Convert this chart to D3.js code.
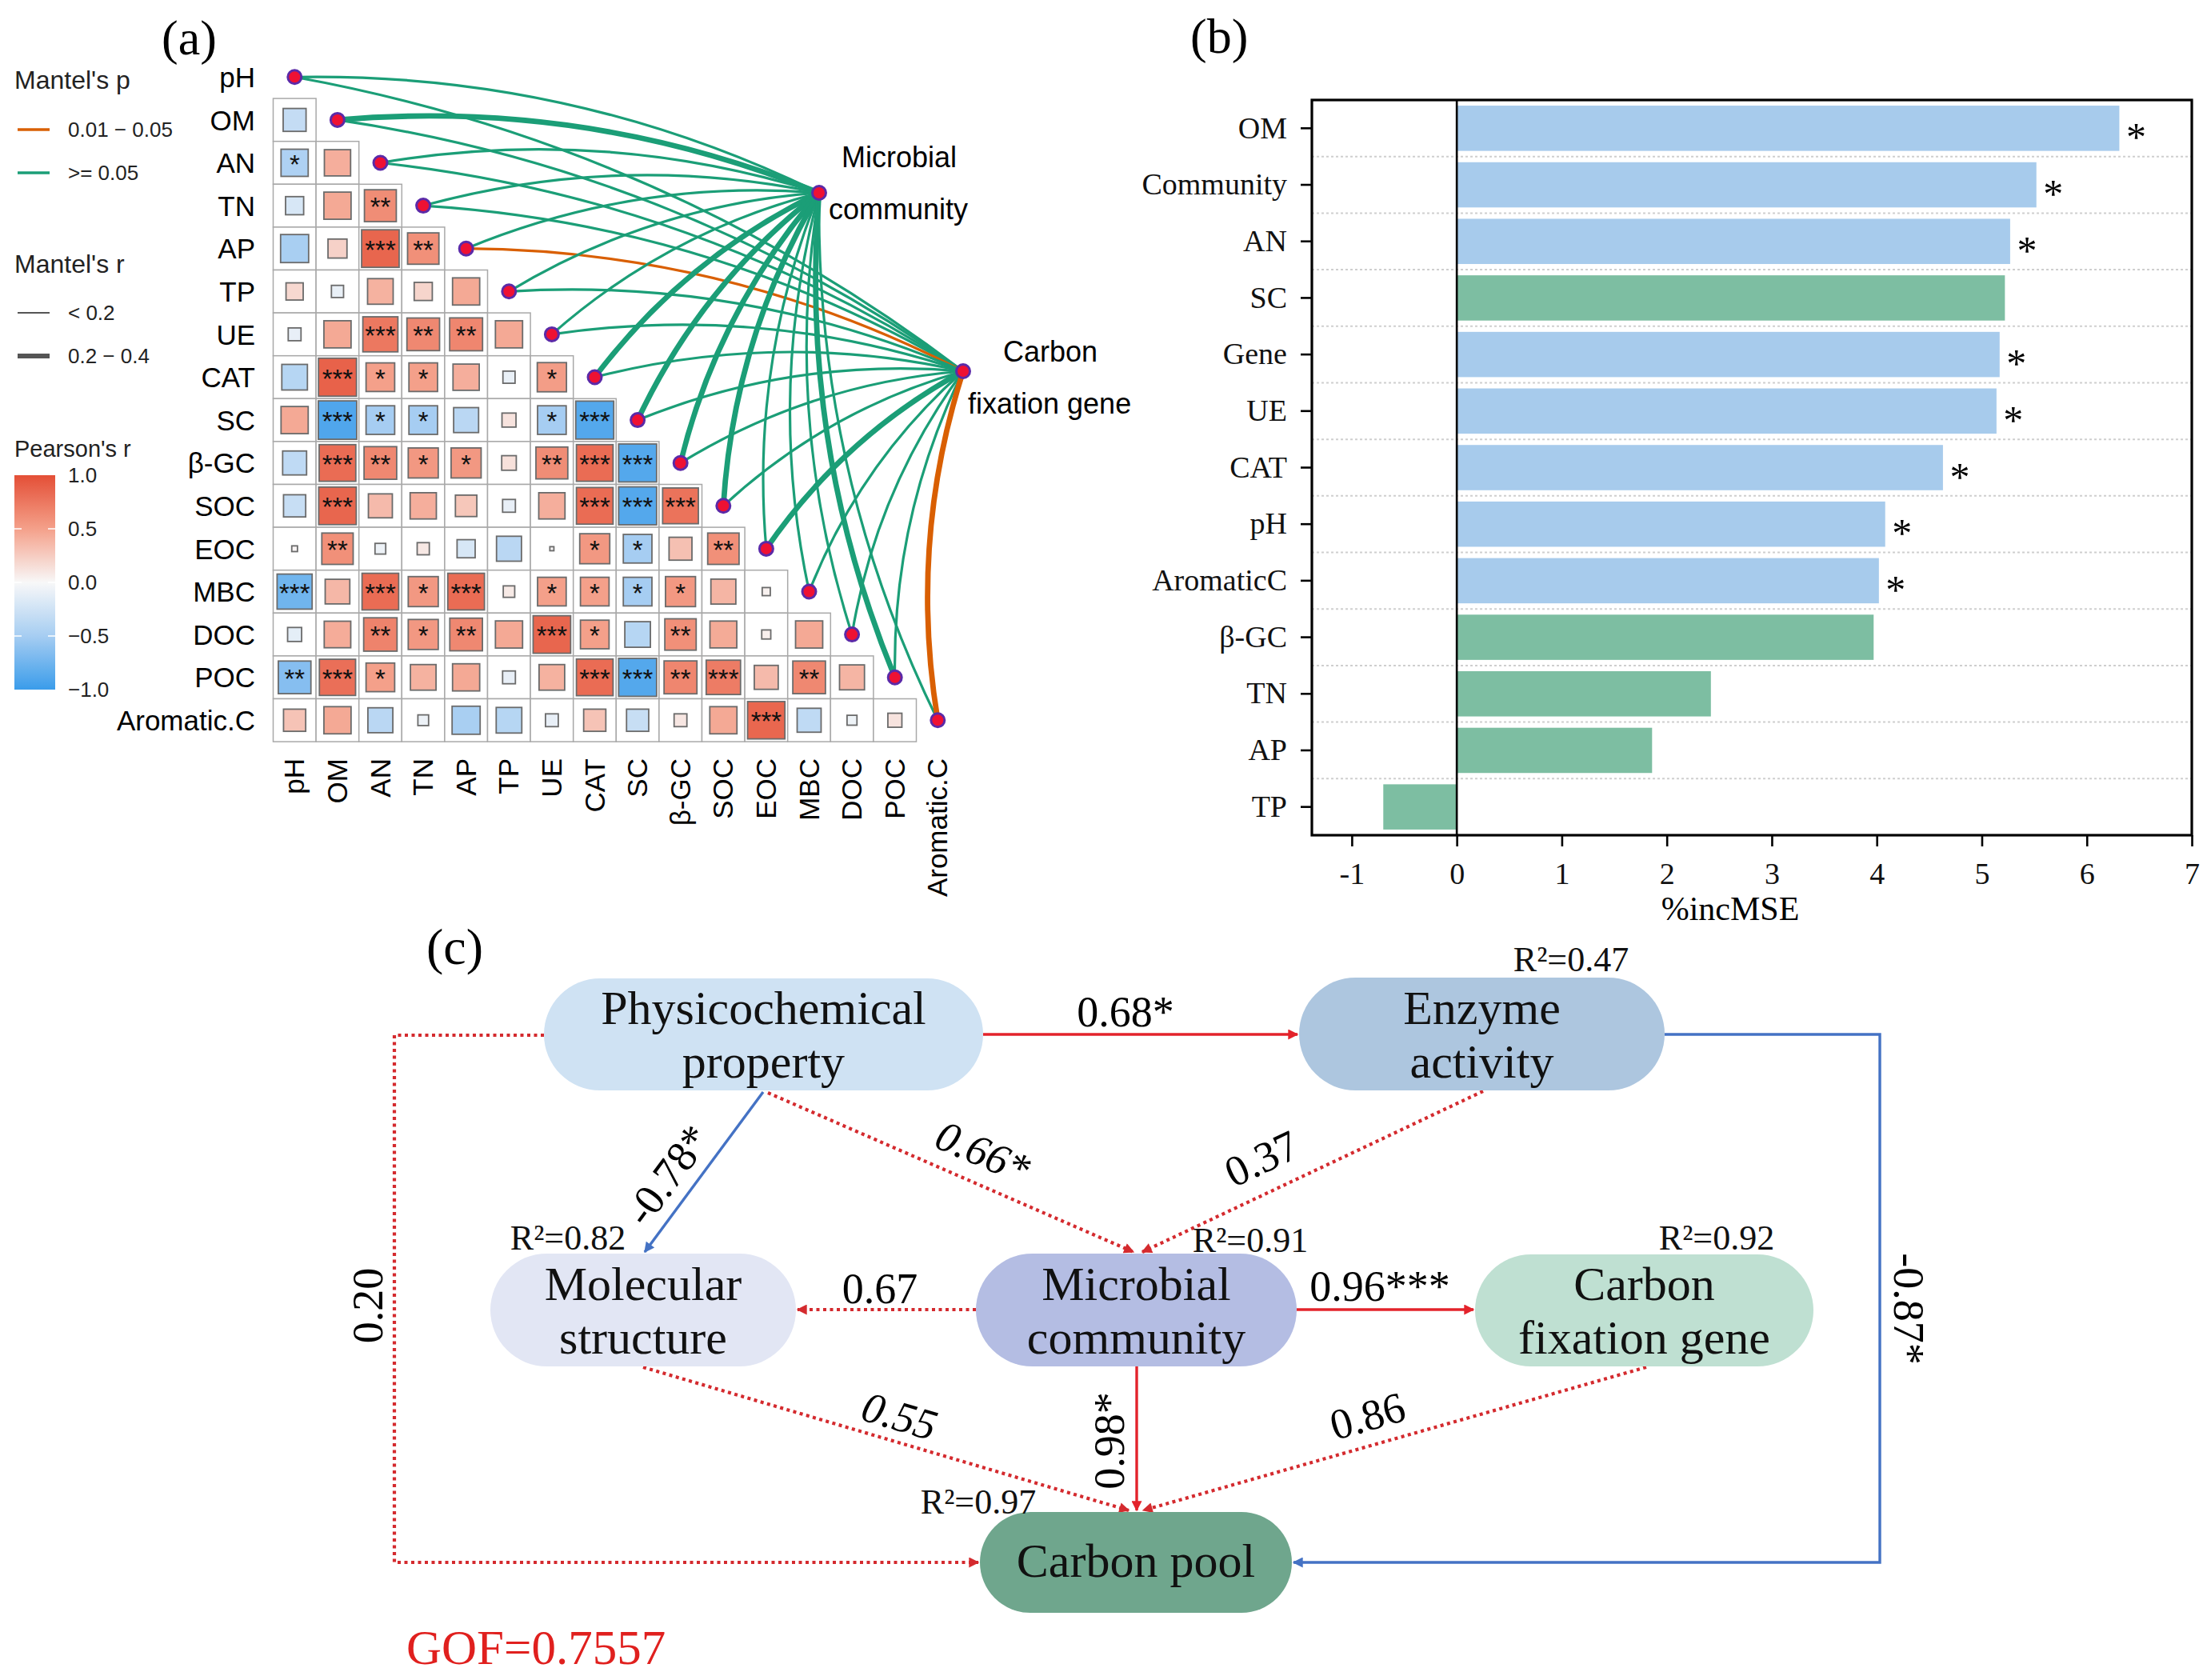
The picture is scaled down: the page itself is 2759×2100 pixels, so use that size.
<!DOCTYPE html>
<html>
<head>
<meta charset="utf-8">
<script src="https://cdn.jsdelivr.net/npm/d3@7"></script>
<style>body{margin:0;background:#fff}</style>
</head>
<body>
<svg id="fig" width="2759" height="2100"></svg>
<script>
// ---------- data: panel (a) ----------
var vars = ["pH","OM","AN","TN","AP","TP","UE","CAT","SC","β-GC","SOC","EOC","MBC","DOC","POC","Aromatic.C"];
// lower triangle of Pearson's r, row i holds columns 0..i-1
var pearsonR = [
  [],
  [-0.32],
  [-0.45, 0.42],
  [-0.2, 0.45, 0.62],
  [-0.48, 0.22, 0.86, 0.6],
  [0.18, -0.09, 0.4, 0.2, 0.45],
  [-0.1, 0.45, 0.75, 0.65, 0.66, 0.45],
  [-0.4, 0.88, 0.5, 0.5, 0.42, -0.09, 0.52],
  [0.45, -0.9, -0.5, -0.5, -0.38, 0.12, -0.5, -0.88],
  [-0.35, 0.82, 0.65, 0.55, 0.55, 0.13, 0.62, 0.82, -0.88],
  [-0.3, 0.86, 0.35, 0.42, 0.28, -0.1, 0.42, 0.82, -0.88, 0.78],
  [0.02, 0.6, -0.07, 0.09, -0.2, -0.38, 0.01, 0.55, -0.5, 0.32, 0.6],
  [-0.75, 0.37, 0.82, 0.55, 0.82, 0.08, 0.5, 0.5, -0.5, 0.55, 0.38, 0.04],
  [-0.12, 0.43, 0.68, 0.55, 0.65, 0.45, 0.86, 0.5, -0.4, 0.6, 0.44, 0.05, 0.45],
  [-0.65, 0.8, 0.5, 0.4, 0.45, -0.1, 0.4, 0.82, -0.88, 0.66, 0.72, 0.35, 0.65, 0.38],
  [0.3, 0.45, -0.38, -0.07, -0.48, -0.4, -0.1, 0.3, -0.3, 0.1, 0.45, 0.85, -0.35, -0.06, 0.12]
];
var pearsonSig = [
  [],
  [""],
  ["*",""],
  ["","","**"],
  ["","","***","**"],
  ["","","","",""],
  ["","","***","**","**",""],
  ["","***","*","*","","","*"],
  ["","***","*","*","","","*","***"],
  ["","***","**","*","*","","**","***","***"],
  ["","***","","","","","","***","***","***"],
  ["","**","","","","","","*","*","","**"],
  ["***","","***","*","***","","*","*","*","*","",""],
  ["","","**","*","**","","***","*","","**","","",""],
  ["**","***","*","","","","","***","***","**","***","","**",""],
  ["","","","","","","","","","","","***","","",""]
];
// Mantel tests against the two response matrices (same order as vars)
var mantelTargets = ["Microbial community", "Carbon fixation gene"];
var mantelR_MC  = [0.12,0.28,0.15,0.14,0.12,0.10,0.15,0.25,0.24,0.22,0.23,0.12,0.10,0.10,0.26,0.12];
var mantelP_MC  = [0.20,0.10,0.30,0.30,0.20,0.40,0.20,0.08,0.09,0.10,0.09,0.30,0.40,0.50,0.07,0.30];
var mantelR_CFG = [0.10,0.12,0.10,0.10,0.15,0.10,0.10,0.10,0.12,0.10,0.10,0.26,0.10,0.10,0.10,0.32];
var mantelP_CFG = [0.30,0.20,0.40,0.40,0.03,0.50,0.30,0.30,0.20,0.40,0.30,0.07,0.40,0.50,0.30,0.02];
var colorbarTicks = [1.0, 0.5, 0.0, -0.5, -1.0];

// ---------- data: panel (b) ----------
var rfNames  = ["OM","Community","AN","SC","Gene","UE","CAT","pH","AromaticC","β-GC","TN","AP","TP"];
var rfValues = [6.31, 5.52, 5.27, 5.22, 5.17, 5.14, 4.63, 4.08, 4.02, 3.97, 2.42, 1.86, -0.70];
var rfSig    = [true, true, true, false, true, true, true, true, true, false, false, false, false];
var rfTicks  = [-1, 0, 1, 2, 3, 4, 5, 6, 7];

// ---------- data: panel (c) ----------
var semNodes = ["phys","enz","mol","mc","cfg","pool"];
var semNames = {
  phys: ["Physicochemical","property"], enz: ["Enzyme","activity"],
  mol: ["Molecular","structure"], mc: ["Microbial","community"],
  cfg: ["Carbon","fixation gene"], pool: ["Carbon pool"]
};
var semR2 = {enz: 0.47, mol: 0.82, mc: 0.91, cfg: 0.92, pool: 0.97};
var semPaths = [
  {from:"phys", to:"enz",  coef:0.68,  sig:"*"},
  {from:"enz",  to:"pool", coef:-0.87, sig:"*"},
  {from:"phys", to:"mol",  coef:-0.78, sig:"*"},
  {from:"phys", to:"mc",   coef:0.66,  sig:"*"},
  {from:"enz",  to:"mc",   coef:0.37,  sig:""},
  {from:"mc",   to:"mol",  coef:0.67,  sig:""},
  {from:"mc",   to:"cfg",  coef:0.96,  sig:"***"},
  {from:"mc",   to:"pool", coef:0.98,  sig:"*"},
  {from:"mol",  to:"pool", coef:0.55,  sig:""},
  {from:"cfg",  to:"pool", coef:0.86,  sig:""},
  {from:"phys", to:"pool", coef:0.20,  sig:""}
];
var gof = 0.7557;

var sans = "'Liberation Sans', Arial, sans-serif";
var serif = "'Liberation Serif', 'Times New Roman', serif";
var svg = d3.select("#fig");
var defs = svg.append("defs");

// ================= panel (a) =================
var cell = 53.6;
var xa = d3.scaleBand().domain(vars).range([341.5, 341.5 + cell * vars.length]);
var ya = d3.scaleBand().domain(vars).range([69.5, 69.5 + cell * vars.length]);
var rColor = d3.scaleLinear().domain([-1, -0.5, 0, 0.5, 1])
  .range(["#3A9CEA", "#A6CDF2", "#F8F8F8", "#F4A08A", "#E44F36"]);

svg.append("text").attr("x", 202).attr("y", 68).attr("font-family", serif)
  .attr("font-size", 62).text("(a)");

var cells = [];
pearsonR.forEach(function (row, i) {
  row.forEach(function (r, j) {
    cells.push({row: vars[i], col: vars[j], r: r, sig: pearsonSig[i][j]});
  });
});

var ga = svg.append("g");
ga.selectAll("rect.bg").data(cells).enter().append("rect")
  .attr("x", function (d) { return xa(d.col); })
  .attr("y", function (d) { return ya(d.row); })
  .attr("width", cell).attr("height", cell)
  .attr("fill", "#fff").attr("stroke", "#a9a9a9").attr("stroke-width", 1.5);

ga.selectAll("rect.sq").data(cells).enter().append("rect")
  .each(function (d) {
    var s = Math.min(1, Math.sqrt(Math.abs(d.r))) * (cell - 3);
    d3.select(this)
      .attr("x", xa(d.col) + (cell - s) / 2)
      .attr("y", ya(d.row) + (cell - s) / 2)
      .attr("width", s).attr("height", s);
  })
  .attr("fill", function (d) { return rColor(d.r); })
  .attr("stroke", "#6b6b6b").attr("stroke-width", 1.8);

ga.selectAll("text.sig").data(cells.filter(function (d) { return d.sig; })).enter().append("text")
  .attr("x", function (d) { return xa(d.col) + cell / 2; })
  .attr("y", function (d) { return ya(d.row) + cell / 2 + 13; })
  .attr("text-anchor", "middle").attr("font-family", sans).attr("font-size", 33)
  .attr("fill", "#111").text(function (d) { return d.sig; });

// row and column labels
ga.selectAll("text.rl").data(vars).enter().append("text")
  .attr("x", 319).attr("y", function (d) { return ya(d) + cell / 2; })
  .attr("dy", "0.36em").attr("text-anchor", "end")
  .attr("font-family", sans).attr("font-size", 35).text(function (d) { return d; });

ga.selectAll("text.cl").data(vars).enter().append("text")
  .attr("transform", function (d) { return "translate(" + (xa(d) + cell / 2 + 12) + ",948) rotate(-90)"; })
  .attr("text-anchor", "end")
  .attr("font-family", sans).attr("font-size", 35).text(function (d) { return d; });

// Mantel links
var targetPos = [[1024, 241], [1204, 464]];
function dotPos(v) { return [xa(v) + cell / 2, ya(v) + cell / 2]; }
function curvePath(s, t, k) {
  var dx = t[0] - s[0], dy = t[1] - s[1];
  var p = d3.path();
  p.moveTo(s[0], s[1]);
  p.quadraticCurveTo((s[0] + t[0]) / 2 + k * dy, (s[1] + t[1]) / 2 - k * dx, t[0], t[1]);
  return p.toString();
}
var links = [];
vars.forEach(function (v, i) {
  links.push({v: v, t: 0, r: mantelR_MC[i], p: mantelP_MC[i]});
  links.push({v: v, t: 1, r: mantelR_CFG[i], p: mantelP_CFG[i]});
});
var pColor = function (p) { return p < 0.05 ? "#D95F02" : "#1B9E77"; };
var rWidth = function (r) { return r < 0.2 ? 3.2 : 6.8; };

ga.selectAll("path.link").data(links).enter().append("path")
  .attr("d", function (d) { return curvePath(dotPos(d.v), targetPos[d.t], 0.12); })
  .attr("fill", "none")
  .attr("stroke", function (d) { return pColor(d.p); })
  .attr("stroke-width", function (d) { return rWidth(d.r); });

ga.selectAll("circle.dot").data(vars).enter().append("circle")
  .attr("cx", function (d) { return dotPos(d)[0]; })
  .attr("cy", function (d) { return dotPos(d)[1]; })
  .attr("r", 8.5).attr("fill", "#EE1133").attr("stroke", "#5B2AA8").attr("stroke-width", 3);

ga.selectAll("circle.tgt").data(targetPos).enter().append("circle")
  .attr("cx", function (d) { return d[0]; }).attr("cy", function (d) { return d[1]; })
  .attr("r", 8.5).attr("fill", "#EE1133").attr("stroke", "#5B2AA8").attr("stroke-width", 3);

ga.append("text").attr("x", 1052).attr("y", 209).attr("font-family", sans).attr("font-size", 36).text("Microbial");
ga.append("text").attr("x", 1036).attr("y", 274).attr("font-family", sans).attr("font-size", 36).text("community");
ga.append("text").attr("x", 1254).attr("y", 452).attr("font-family", sans).attr("font-size", 36).text("Carbon");
ga.append("text").attr("x", 1210).attr("y", 517).attr("font-family", sans).attr("font-size", 36).text("fixation gene");

// legends
var lg = svg.append("g").attr("font-family", sans).attr("fill", "#222");
lg.append("text").attr("x", 18).attr("y", 111).attr("font-size", 32).text("Mantel's p");
[[0.03, "0.01 \u2212 0.05", 162], [0.2, ">= 0.05", 216]].forEach(function (d) {
  lg.append("line").attr("x1", 22).attr("x2", 62).attr("y1", d[2]).attr("y2", d[2])
    .attr("stroke", pColor(d[0])).attr("stroke-width", 3.5);
  lg.append("text").attr("x", 85).attr("y", d[2] + 9).attr("font-size", 26).text(d[1]);
});
lg.append("text").attr("x", 18).attr("y", 341).attr("font-size", 32).text("Mantel's r");
[[0.1, "< 0.2", 391], [0.3, "0.2 \u2212 0.4", 445]].forEach(function (d) {
  lg.append("line").attr("x1", 22).attr("x2", 62).attr("y1", d[2]).attr("y2", d[2])
    .attr("stroke", "#555").attr("stroke-width", d[0] < 0.2 ? 2.2 : 6);
  lg.append("text").attr("x", 85).attr("y", d[2] + 9).attr("font-size", 26).text(d[1]);
});
lg.append("text").attr("x", 18).attr("y", 571).attr("font-size", 29).text("Pearson's r");
var cbY = d3.scaleLinear().domain([-1, 1]).range([862, 594]);
var grad = defs.append("linearGradient").attr("id", "cbar")
  .attr("x1", 0).attr("y1", 1).attr("x2", 0).attr("y2", 0);
d3.range(-1, 1.01, 0.1).forEach(function (v) {
  grad.append("stop").attr("offset", ((v + 1) / 2 * 100) + "%").attr("stop-color", rColor(v));
});
lg.append("rect").attr("x", 18).attr("y", 594).attr("width", 51).attr("height", 268).attr("fill", "url(#cbar)");
colorbarTicks.forEach(function (v) {
  if (Math.abs(v) < 1) {
    lg.append("line").attr("x1", 18).attr("x2", 27).attr("y1", cbY(v)).attr("y2", cbY(v)).attr("stroke", "#fff").attr("stroke-width", 1.5);
    lg.append("line").attr("x1", 60).attr("x2", 69).attr("y1", cbY(v)).attr("y2", cbY(v)).attr("stroke", "#fff").attr("stroke-width", 1.5);
  }
  lg.append("text").attr("x", 85).attr("y", cbY(v)).attr("dy", "0.36em").attr("font-size", 26)
    .text(d3.format(".1f")(v));
});

// ================= panel (b) =================
var bx0 = 1640, bx1 = 2740, by0 = 125, by1 = 1044;
svg.append("text").attr("x", 1488).attr("y", 66).attr("font-family", serif)
  .attr("font-size", 62).text("(b)");
var xb = d3.scaleLinear().domain([-1.38, 7]).range([bx0, bx1]);
var yb = d3.scaleBand().domain(rfNames).range([by0, by1]).paddingInner(0.2).paddingOuter(0.1);
var gb = svg.append("g");
var rows = rfNames.map(function (n, i) { return {name: n, v: rfValues[i], sig: rfSig[i]}; });

gb.selectAll("line.sep").data(rfNames.slice(1)).enter().append("line")
  .attr("x1", bx0).attr("x2", bx1)
  .attr("y1", function (d) { return yb(d) - yb.step() * 0.1; })
  .attr("y2", function (d) { return yb(d) - yb.step() * 0.1; })
  .attr("stroke", "#cfcfcf").attr("stroke-width", 2).attr("stroke-dasharray", "3 3");

gb.selectAll("rect.bar").data(rows).enter().append("rect")
  .attr("x", function (d) { return xb(Math.min(0, d.v)); })
  .attr("y", function (d) { return yb(d.name); })
  .attr("width", function (d) { return Math.abs(xb(d.v) - xb(0)); })
  .attr("height", yb.bandwidth())
  .attr("fill", function (d) { return d.sig ? "#A7CBEC" : "#7DBEA2"; });

gb.selectAll("text.star").data(rows.filter(function (d) { return d.sig; })).enter().append("text")
  .attr("x", function (d) { return xb(d.v) + 21; })
  .attr("y", function (d) { return yb(d.name) + yb.bandwidth() / 2 + 28; })
  .attr("text-anchor", "middle").attr("font-family", serif).attr("font-size", 50).text("*");

gb.append("line").attr("x1", xb(0)).attr("x2", xb(0)).attr("y1", by0).attr("y2", by1)
  .attr("stroke", "#000").attr("stroke-width", 2.6);
gb.append("rect").attr("x", bx0).attr("y", by0).attr("width", bx1 - bx0).attr("height", by1 - by0)
  .attr("fill", "none").attr("stroke", "#000").attr("stroke-width", 3.2);

var axB = gb.append("g").attr("transform", "translate(0," + by1 + ")")
  .call(d3.axisBottom(xb).tickValues(rfTicks).tickSize(14).tickPadding(20).tickFormat(function (d) { return String(d); }));
var axL = gb.append("g").attr("transform", "translate(" + bx0 + ",0)")
  .call(d3.axisLeft(yb).tickSize(14).tickPadding(17));
[axB, axL].forEach(function (a) {
  a.select(".domain").remove();
  a.selectAll("line").attr("stroke", "#000").attr("stroke-width", 2.6);
  a.selectAll("text").attr("font-family", serif).attr("font-size", 38).attr("fill", "#111");
});
gb.append("text").attr("x", 2163).attr("y", 1150).attr("text-anchor", "middle")
  .attr("font-family", serif).attr("font-size", 42).text("%incMSE");

// ================= panel (c) =================
svg.append("text").attr("x", 533).attr("y", 1205).attr("font-family", serif)
  .attr("font-size", 64).text("(c)");
var box = {
  phys: {x: 680, y: 1223, w: 549, h: 140, fill: "#CFE2F3"},
  enz:  {x: 1624, y: 1222, w: 457, h: 141, fill: "#ADC6DF"},
  mol:  {x: 613, y: 1567, w: 382, h: 141, fill: "#E2E6F4"},
  mc:   {x: 1220, y: 1567, w: 401, h: 141, fill: "#B4BDE3"},
  cfg:  {x: 1844, y: 1568, w: 423, h: 140, fill: "#BFE0D2"},
  pool: {x: 1225, y: 1890, w: 390, h: 126, fill: "#6FA68D"}
};
var r2Pos = {enz: [1964, 1214], mol: [710, 1562], mc: [1563, 1565], cfg: [2146, 1562], pool: [1223, 1892]};
var gc = svg.append("g").attr("font-family", serif);
[["arRed", "#E3232B"], ["arDot", "#D42A2E"], ["arBlue", "#4472C4"]].forEach(function (m) {
  defs.append("marker").attr("id", m[0]).attr("viewBox", "0 0 10 10").attr("refX", 9).attr("refY", 5)
    .attr("markerUnits", "userSpaceOnUse").attr("markerWidth", 17).attr("markerHeight", 13)
    .attr("orient", "auto").append("path").attr("d", "M0,0L10,5L0,10z").attr("fill", m[1]);
});

// connector geometry (start, optional elbows, end), line style and label placement
var pathGeom = {
  "phys-enz":  {dotted: false, pts: [[1229, 1293], [1622, 1293]], lab: [1407, 1283, 0]},
  "enz-pool":  {dotted: false, pts: [[2081, 1293], [2350, 1293], [2350, 1953], [1617, 1953]], lab: [2384, 1636, 90]},
  "phys-mol":  {dotted: false, pts: [[954, 1365], [806, 1565]], lab: [836, 1470, -53.5]},
  "phys-mc":   {dotted: true,  pts: [[960, 1366], [1417, 1565]], lab: [1228, 1442, 23.5]},
  "enz-mc":    {dotted: true,  pts: [[1854, 1364], [1428, 1565]], lab: [1578, 1450, -25.5]},
  "mc-mol":    {dotted: true,  pts: [[1220, 1637], [997, 1637]], lab: [1100, 1629, 0]},
  "mc-cfg":    {dotted: false, pts: [[1621, 1637], [1842, 1637]], lab: [1725, 1626, 0]},
  "mc-pool":   {dotted: false, pts: [[1421, 1708], [1421, 1888]], lab: [1389, 1801, -90]},
  "mol-pool":  {dotted: true,  pts: [[804, 1709], [1411, 1888]], lab: [1124, 1772, 16.5]},
  "cfg-pool":  {dotted: true,  pts: [[2058, 1709], [1429, 1888]], lab: [1710, 1772, -15.9]},
  "phys-pool": {dotted: true,  pts: [[680, 1294], [493, 1294], [493, 1953], [1223, 1953]], lab: [462, 1632, -90]}
};
var italicLabels = {"phys-mc": true, "mol-pool": true};

semPaths.forEach(function (p) {
  var key = p.from + "-" + p.to, g = pathGeom[key];
  var neg = p.coef < 0, solid = !g.dotted;
  var col = neg ? "#4472C4" : (solid ? "#E3232B" : "#D42A2E");
  gc.append("path").attr("d", d3.line()(g.pts)).attr("fill", "none")
    .attr("stroke", col).attr("stroke-width", solid ? 3.4 : 4.2)
    .attr("stroke-dasharray", solid ? null : "4 4.5")
    .attr("marker-end", "url(#" + (neg ? "arBlue" : (solid ? "arRed" : "arDot")) + ")");
  gc.append("text")
    .attr("transform", "translate(" + g.lab[0] + "," + g.lab[1] + ") rotate(" + g.lab[2] + ")")
    .attr("text-anchor", "middle").attr("font-size", 54)
    .attr("font-style", italicLabels[key] ? "italic" : null)
    .attr("dy", g.lab[2] === 0 ? 0 : "0.3em")
    .text(d3.format(".2f")(p.coef).replace("\u2212", "-") + p.sig);
});

semNodes.forEach(function (k) {
  var b = box[k];
  gc.append("rect").attr("x", b.x).attr("y", b.y).attr("width", b.w).attr("height", b.h)
    .attr("rx", b.h / 2).attr("ry", b.h / 2).attr("fill", b.fill);
  var lines = semNames[k];
  lines.forEach(function (t, i) {
    var yy = lines.length === 1 ? b.y + b.h / 2 + 18 : b.y + b.h / 2 - 13 + i * 67;
    gc.append("text").attr("x", b.x + b.w / 2).attr("y", yy).attr("text-anchor", "middle")
      .attr("font-size", 60).attr("fill", "#111").text(t);
  });
  if (semR2[k] !== undefined) {
    gc.append("text").attr("x", r2Pos[k][0]).attr("y", r2Pos[k][1]).attr("text-anchor", "middle")
      .attr("font-size", 44).attr("fill", "#111").text("R\u00b2=" + d3.format(".2f")(semR2[k]));
  }
});

gc.append("text").attr("x", 508).attr("y", 2080).attr("font-size", 61).attr("fill", "#E0201E")
  .text("GOF=" + gof);
</script>
</body>
</html>
